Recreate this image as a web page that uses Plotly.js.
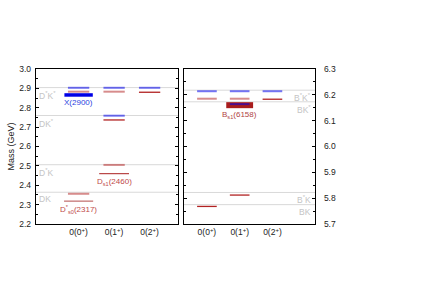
<!DOCTYPE html>
<html>
<head>
<meta charset="utf-8">
<script src="https://cdn.plot.ly/plotly-3.0.1.min.js"></script>
<style>html,body{margin:0;padding:0;background:#fff;}#chart{width:430px;height:301px;}</style>
</head>
<body>
<div id="chart"></div>
<script>
// ---------- data ----------
const categories = ['0(0<sup>+</sup>)', '0(1<sup>+</sup>)', '0(2<sup>+</sup>)'];
const categoryIndex = [0, 1, 2];

// charm sector (left panel)
const charmBlueCol = [0, 1, 1, 2];
const charmBlueMass = [2.903, 2.903, 2.759, 2.903];
const charmLightCol = [0, 0, 1, 1];
const charmLightMass = [2.883, 2.356, 2.883, 2.505];
const charmDarkCol = [1, 2];
const charmDarkMass = [2.737, 2.880];
const charmThrMass = [2.364, 2.506, 2.760, 2.904];
const charmThrLabel = ['DK', 'D<sup>*</sup>K', 'DK<sup>*</sup>', 'D<sup>*</sup>K<sup>*</sup>'];
const charmExpCol = [0, 0, 1];
const charmExpMass = [2.866, 2.318, 2.460];
const charmExpLabel = ['X(2900)', 'D<sup>*</sup><sub>s0</sub>(2317)', 'D<sub>s1</sub>(2460)'];

// bottom sector (right panel)
const bottomBlueCol = [0, 1, 2, 1];
const bottomBlueMass = [6.214, 6.214, 6.214, 6.164];
const bottomLightCol = [0, 1];
const bottomLightMass = [6.185, 6.185];
const bottomDarkCol = [0, 1, 2];
const bottomDarkMass = [5.768, 5.812, 6.183];
const bottomThrMass = [5.775, 5.822, 6.173, 6.218];
const bottomThrLabel = ['BK', 'B<sup>*</sup>K', 'BK<sup>*</sup>', 'B<sup>*</sup>K<sup>*</sup>'];
const bottomExpCol = [1];
const bottomExpMass = [6.160];
const bottomExpLabel = ['B<sub>s1</sub>(6158)'];

// ---------- styling ----------
const FONT = 'Liberation Sans, Arial, sans-serif';
const BLUE = 'rgba(0,0,235,0.55)';
const LIGHTRED = 'rgba(175,25,25,0.5)';
const DARKRED = '#b22222';
const THR = '#d9d9d9';
const THRTXT = '#c4c4c4';
const HALF = 0.3;

function segs(cols, masses, half) {
  const x = [], y = [];
  cols.forEach((c, i) => { x.push(c - half, c + half, null); y.push(masses[i], masses[i], null); });
  return {x, y};
}
function levelTrace(cols, masses, half, color, width, xa, ya) {
  const s = segs(cols, masses, half);
  return {type: 'scatter', mode: 'lines', x: s.x, y: s.y, xaxis: xa, yaxis: ya,
          line: {color: color, width: width}, hoverinfo: 'skip', showlegend: false};
}
function thrTrace(masses, xr, xa, ya) {
  const x = [], y = [];
  masses.forEach(m => { x.push(xr[0], xr[1], null); y.push(m, m, null); });
  return {type: 'scatter', mode: 'lines', x, y, xaxis: xa, yaxis: ya,
          line: {color: THR, width: 1}, hoverinfo: 'skip', showlegend: false};
}

const xr1 = [-1.2, 2.8];
const xr2 = [-0.7, 3.3];

const traces = [
  thrTrace(charmThrMass, xr1, 'x', 'y'),
  thrTrace(bottomThrMass, xr2, 'x2', 'y2'),
  // experimental charm
  levelTrace([charmExpCol[0]], [charmExpMass[0]], 0.4, '#0000e6', 3.5, 'x', 'y'),
  levelTrace([charmExpCol[1]], [charmExpMass[1]], 0.41, '#c06a6a', 1.2, 'x', 'y'),
  levelTrace([charmExpCol[2]], [charmExpMass[2]], 0.42, '#b84444', 1.2, 'x', 'y'),
  // experimental bottom
  levelTrace(bottomExpCol, bottomExpMass, 0.41, '#a81c1c', 6, 'x2', 'y2'),
  // levels charm
  levelTrace(charmLightCol, charmLightMass, HALF, LIGHTRED, 2, 'x', 'y'),
  levelTrace(charmDarkCol, charmDarkMass, HALF, DARKRED, 1.3, 'x', 'y'),
  levelTrace(charmBlueCol, charmBlueMass, HALF, BLUE, 2, 'x', 'y'),
  // levels bottom
  levelTrace(bottomLightCol, bottomLightMass, HALF, LIGHTRED, 2, 'x2', 'y2'),
  levelTrace(bottomDarkCol, bottomDarkMass, HALF, DARKRED, 1.3, 'x2', 'y2'),
  levelTrace(bottomBlueCol, bottomBlueMass, HALF, BLUE, 2, 'x2', 'y2')
];

const annotations = [];
charmThrMass.forEach((m, i) => annotations.push({
  xref: 'x', yref: 'y', x: xr1[0], y: m, text: charmThrLabel[i], showarrow: false,
  xanchor: 'left', yanchor: 'top', xshift: 1, yshift: 0,
  font: {family: FONT, size: 8.5, color: THRTXT}
}));
bottomThrMass.forEach((m, i) => annotations.push({
  xref: 'x2', yref: 'y2', x: xr2[1], y: m, text: bottomThrLabel[i], showarrow: false,
  xanchor: 'right', yanchor: 'top', xshift: -2, yshift: 0,
  font: {family: FONT, size: 8.5, color: THRTXT}
}));
const charmExpColor = ['#2a3fe0', '#c04a4a', '#c04a4a'];
charmExpMass.forEach((m, i) => annotations.push({
  xref: 'x', yref: 'y', x: charmExpCol[i], y: m, text: charmExpLabel[i], showarrow: false,
  xanchor: 'center', yanchor: 'top', yshift: -1,
  font: {family: FONT, size: 8, color: charmExpColor[i]}
}));
bottomExpMass.forEach((m, i) => annotations.push({
  xref: 'x2', yref: 'y2', x: bottomExpCol[i], y: m, text: bottomExpLabel[i], showarrow: false,
  xanchor: 'center', yanchor: 'top', yshift: -3,
  font: {family: FONT, size: 8, color: '#b04444'}
}));

const yCommon = {
  showline: true, linecolor: '#000', linewidth: 1.2, mirror: 'allticks',
  ticks: 'inside', ticklen: 3, tickcolor: '#000', tickwidth: 1,
  dtick: 0.1, tickformat: '.1f', showgrid: false, zeroline: false,
  tickfont: {family: FONT, size: 8.5, color: '#222'},
  minor: {dtick: 0.05, ticks: 'inside', ticklen: 2, tickcolor: '#000', showgrid: false}
};
const xCommon = {
  showline: true, linecolor: '#000', linewidth: 1.2, mirror: true,
  ticks: '', showgrid: false, zeroline: false, tickvals: categoryIndex, ticktext: categories,
  tickfont: {family: FONT, size: 8.5, color: '#222'}
};

const layout = {
  width: 430, height: 301,
  margin: {l: 0, r: 0, t: 69, b: 77},
  paper_bgcolor: '#fff', plot_bgcolor: '#fff',
  showlegend: false,
  xaxis: Object.assign({}, xCommon, {domain: [36/430, 178/430], range: xr1, anchor: 'y'}),
  yaxis: Object.assign({}, yCommon, {range: [2.2, 3.0], anchor: 'x', ticklabelstandoff: 2,
    title: {text: 'Mass (GeV)', font: {family: FONT, size: 9, color: '#222'}, standoff: 3}}),
  xaxis2: Object.assign({}, xCommon, {domain: [184/430, 315/430], range: xr2, anchor: 'y2'}),
  yaxis2: Object.assign({}, yCommon, {range: [5.7, 6.3], anchor: 'x2', side: 'right', ticklabelstandoff: 6}),
  annotations: annotations
};

Plotly.newPlot('chart', traces, layout, {displayModeBar: false, staticPlot: true});
</script>
</body>
</html>
